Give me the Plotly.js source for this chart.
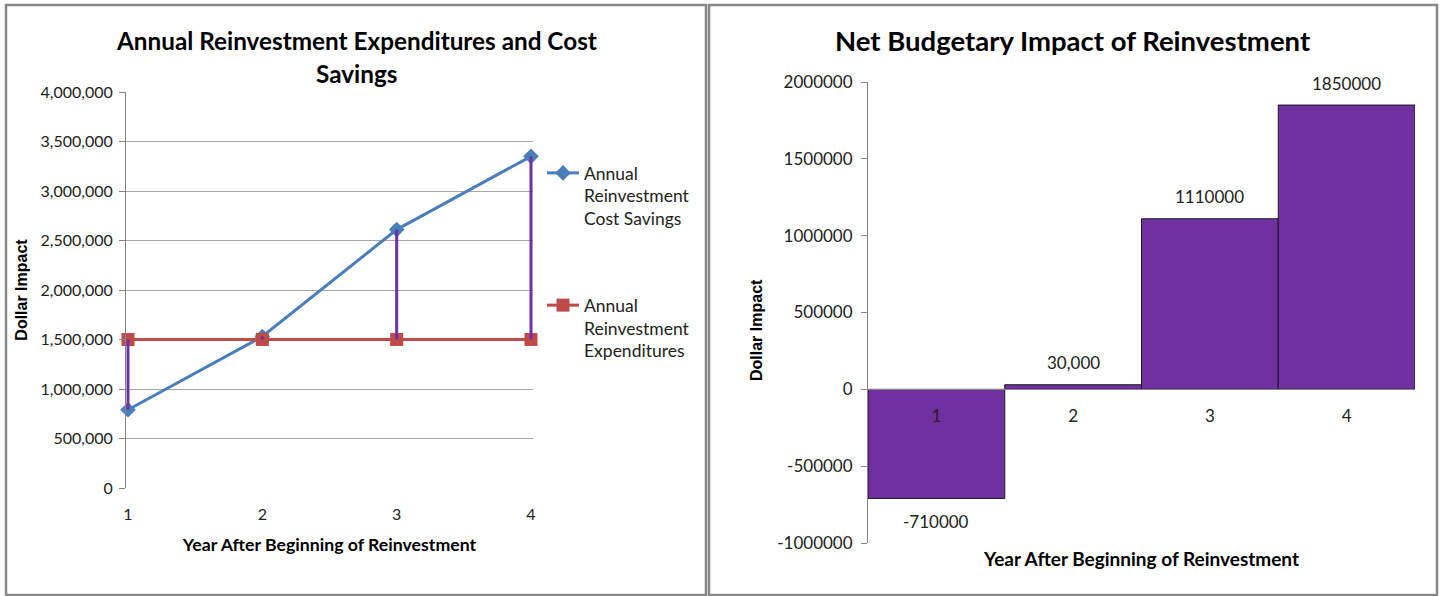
<!DOCTYPE html>
<html>
<head>
<meta charset="utf-8">
<script src="https://cdn.plot.ly/plotly-3.0.1.min.js"></script>
<style>html,body{margin:0;padding:0;background:#fff;}#chart{width:1441px;height:596px;}</style>
</head>
<body>
<div id="chart"></div>
<script>
// ---- data ----
const years = [1, 2, 3, 4];
const costSavings = [790000, 1530000, 2610000, 3350000];
const expenditures = [1500000, 1500000, 1500000, 1500000];
const netImpact = [-710000, 30000, 1110000, 1850000];
const netLabels = ["-710000", "30,000", "1110000", "1850000"];
const leftTickVals = [0, 500000, 1000000, 1500000, 2000000, 2500000, 3000000, 3500000, 4000000];
const rightTickVals = [-1000000, -500000, 0, 500000, 1000000, 1500000, 2000000];

const W = 1441, H = 596;
const px = v => v / W;
const py = v => 1 - v / H;

const FONT = "Lato, 'Open Sans', sans-serif";
const YFONT = "'Liberation Sans', Arial, sans-serif";
const AXC = '#868686';
const TXT = '#222222';

// hi-low drop lines between the two series
const dropX = [], dropY = [];
years.forEach((yr, i) => {
  dropX.push(yr, yr, null);
  dropY.push(expenditures[i], costSavings[i], null);
});

// left plot: x=1 at 128px, x=4 at 531px; pad 2px so edge lines are not clipped
const L0 = 128, L1 = 531, PAD = 2;
const perUnit = (L1 - L0) / 3;
const xPad = PAD / perUnit;

const traces = [
  {
    x: years, y: costSavings, type: 'scatter', mode: 'lines+markers', cliponaxis: false,
    name: 'Annual<br>Reinvestment<br>Cost Savings', legendgroup: 'a',
    line: {color: '#4A7EBB', width: 3},
    marker: {symbol: 'diamond', size: 12, color: '#4A7EBB'},
    xaxis: 'x', yaxis: 'y'
  },
  {
    x: years, y: expenditures, type: 'scatter', mode: 'lines+markers', cliponaxis: false,
    name: 'Annual<br>Reinvestment<br>Expenditures', legendgroup: 'b',
    line: {color: '#BE4B48', width: 3},
    marker: {symbol: 'square', size: 13, color: '#BE4B48'},
    xaxis: 'x', yaxis: 'y'
  },
  {
    x: dropX, y: dropY, type: 'scatter', mode: 'lines', showlegend: false, cliponaxis: false,
    line: {color: '#7030A0', width: 3}, connectgaps: false,
    xaxis: 'x', yaxis: 'y'
  },
  {
    x: years, y: netImpact, type: 'bar', showlegend: false,
    marker: {color: '#7030A0', line: {color: '#1a1a1a', width: 1}},
    xaxis: 'x2', yaxis: 'y2'
  }
];

const ann = (text, x, y, size, extra) => Object.assign({
  text: text, x: px(x), y: py(y), xref: 'paper', yref: 'paper', showarrow: false,
  xanchor: 'center', yanchor: 'middle', font: {family: FONT, size: size, color: '#000'}
}, extra || {});

const annotations = [
  ann('<b>Annual Reinvestment Expenditures and Cost</b>', 356, 40, 24.3),
  ann('<b>Savings</b>', 356, 74, 24.3),
  ann('<b>Net Budgetary Impact of Reinvestment</b>', 1073, 40, 27.5),
  ann('<b>Year After Beginning of Reinvestment</b>', 1141, 558, 19),
  ann('<b>Dollar Impact</b>', 756, 330, 16, {textangle: -90, font: {family: YFONT, size: 16, color: '#000'}})
];
years.forEach((yr, i) => {
  const v = netImpact[i];
  annotations.push({
    text: netLabels[i], x: yr, y: v, xref: 'x2', yref: 'y2', showarrow: false,
    xanchor: 'center', yanchor: 'middle',
    yshift: v >= 0 ? 22 : -23, font: {family: FONT, size: 17, color: TXT}
  });
});

const zeroPos = py(543) + (py(82) - py(543)) * (1 / 3);

const layout = {
  width: W, height: H,
  margin: {l: 0, r: 0, t: 0, b: 0},
  paper_bgcolor: '#fff', plot_bgcolor: 'rgba(0,0,0,0)',
  showlegend: true,
  legend: {
    x: px(542), y: py(155), xanchor: 'left', yanchor: 'top',
    traceorder: 'grouped', tracegroupgap: 61, valign: 'top',
    font: {family: FONT, size: 17.5, color: TXT}, bgcolor: 'rgba(0,0,0,0)', itemwidth: 32
  },
  xaxis: {
    domain: [px(L0 - PAD), px(L1 + PAD)], range: [1 - xPad, 4 + xPad], tickvals: years, ticktext: years.map(String),
    showgrid: false, zeroline: false, showline: false, ticks: '',
    tickfont: {family: FONT, size: 16, color: TXT}, ticklabelstandoff: 15,
    title: {text: '<b>Year After Beginning of Reinvestment</b>', font: {family: FONT, size: 17.7, color: '#000'}, standoff: 16},
    anchor: 'y'
  },
  yaxis: {
    domain: [py(488), py(92)], range: [0, 4000000], tickvals: leftTickVals, tickformat: ',d',
    showgrid: true, gridcolor: '#A6A6A6', gridwidth: 1, zeroline: false,
    showline: true, linecolor: AXC, linewidth: 1, ticks: 'outside', ticklen: 6, tickcolor: AXC,
    tickfont: {family: FONT, size: 16, color: TXT}, ticklabelstandoff: 3,
    title: {text: '<b>Dollar Impact</b>', font: {family: YFONT, size: 16, color: '#000'}, standoff: 8},
    anchor: 'x'
  },
  xaxis2: {
    domain: [px(868), px(1415)], range: [0.5, 4.5], tickvals: years, ticktext: years.map(String),
    showgrid: false, zeroline: false, showline: true, linecolor: AXC, linewidth: 1,
    ticks: '', tickfont: {family: FONT, size: 17, color: TXT}, ticklabelstandoff: 11,
    anchor: 'free', position: zeroPos, layer: 'above traces'
  },
  yaxis2: {
    domain: [py(543), py(82)], range: [-1000000, 2000000], tickvals: rightTickVals,
    ticktext: rightTickVals.map(String),
    showgrid: false, zeroline: false, showline: true, linecolor: AXC, linewidth: 1,
    ticks: 'outside', ticklen: 6, tickcolor: AXC,
    tickfont: {family: FONT, size: 17, color: TXT}, ticklabelstandoff: 5,
    anchor: 'x2'
  },
  bargap: 0,
  annotations: annotations,
  shapes: [
    {type: 'rect', xref: 'paper', yref: 'paper', x0: px(6), x1: px(706), y0: py(595), y1: py(5), line: {color: '#888', width: 2.5}},
    {type: 'rect', xref: 'paper', yref: 'paper', x0: px(709), x1: px(1437), y0: py(595), y1: py(5), line: {color: '#888', width: 2.5}}
  ]
};

Plotly.newPlot('chart', traces, layout, {staticPlot: true, displayModeBar: false});
</script>
</body>
</html>
